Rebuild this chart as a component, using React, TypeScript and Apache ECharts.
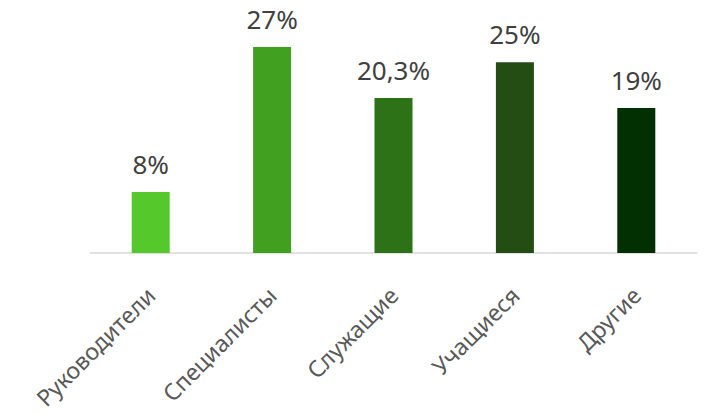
import React, { useEffect, useRef } from "react";
import * as echarts from "echarts";

const categories = ["Руководители", "Специалисты", "Служащие", "Учащиеся", "Другие"];
const values = [8, 27, 20.3, 25, 19];
const valueLabels = ["8%", "27%", "20,3%", "25%", "19%"];
const barColors = ["#55c92b", "#42a021", "#2e7218", "#244d13", "#033002"];

export default function App() {
  const ref = useRef<HTMLDivElement>(null);
  useEffect(() => {
    const chart = echarts.init(ref.current!, null, { renderer: "svg" });
    chart.setOption({
      animation: false,
      grid: { left: 90, right: 16, top: 24, bottom: 157 },
      xAxis: {
        type: "category",
        data: categories,
        axisLine: { lineStyle: { color: "#d9d9d9", width: 1.5 } },
        axisTick: { show: false },
        axisLabel: {
          rotate: 45,
          margin: 38,
          interval: 0,
          color: "#595959",
          fontFamily: "Noto Sans",
          fontSize: 23,
        },
      },
      yAxis: {
        type: "value",
        min: 0,
        max: 30,
        show: false,
      },
      series: [
        {
          type: "bar",
          barWidth: 38,
          data: values.map((v, i) => ({ value: v, itemStyle: { color: barColors[i] } })),
          label: {
            show: true,
            position: "top",
            distance: 15,
            color: "#404040",
            fontFamily: "Noto Sans",
            fontSize: 26,
            formatter: (p: any) => valueLabels[p.dataIndex],
          },
        },
      ],
    });
    return () => chart.dispose();
  }, []);
  return (
    <div
      ref={ref}
      style={{ position: "absolute", left: 0, top: 0, width: 713, height: 412 }}
    />
  );
}
